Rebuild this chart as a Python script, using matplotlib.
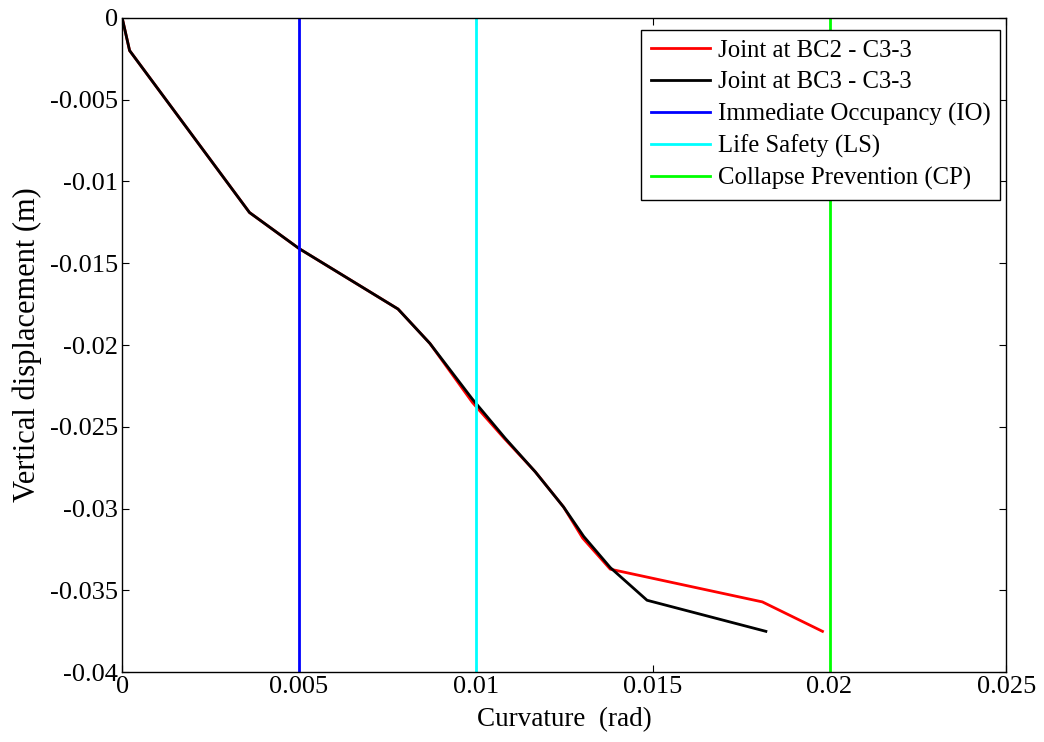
import numpy as np
import matplotlib
matplotlib.use("Agg")
import matplotlib.pyplot as plt
from matplotlib.ticker import FormatStrFormatter

plt.rcParams['font.family'] = ['Liberation Serif', 'DejaVu Serif']
plt.rcParams['axes.unicode_minus'] = False

# curvature (rad) vs vertical displacement (m)
curv_bc2 = [0.0, 0.00021, 0.0036, 0.0050, 0.0078, 0.0087, 0.0099, 0.0108, 0.01168, 0.01248, 0.01302, 0.0138, 0.0181, 0.0198]
disp_bc2 = [0.0, -0.0020, -0.0119, -0.0141, -0.0178, -0.0199, -0.0235, -0.0257, -0.02775, -0.0299, -0.0318, -0.0337, -0.0357, -0.0375]

curv_bc3 = [0.0, 0.00021, 0.0036, 0.0050, 0.0078, 0.0087, 0.0099, 0.01083, 0.01168, 0.01248, 0.01305, 0.0138, 0.01484, 0.0182]
disp_bc3 = [0.0, -0.0020, -0.0119, -0.0141, -0.0178, -0.0199, -0.0233, -0.0257, -0.02775, -0.0299, -0.0317, -0.0336, -0.0356, -0.0375]

limits = [0.005, 0.01, 0.02]
limit_names = ['Immediate Occupancy (IO)', 'Life Safety (LS)', 'Collapse Prevention (CP)']
limit_colors = ['#0000ff', '#00ffff', '#00ff00']

xticks = [0, 0.005, 0.01, 0.015, 0.02, 0.025]
yticks = [-0.04, -0.035, -0.03, -0.025, -0.02, -0.015, -0.01, -0.005, 0]

fig = plt.figure(figsize=(10.44, 7.42), dpi=100)
ax = fig.add_axes([0.117, 0.094, 0.847, 0.882])

ax.plot(curv_bc2, disp_bc2, color='red', lw=2, label='Joint at BC2 - C3-3')
ax.plot(curv_bc3, disp_bc3, color='black', lw=2, label='Joint at BC3 - C3-3')
for x, name, c in zip(limits, limit_names, limit_colors):
    ax.axvline(x, color=c, lw=2, label=name)

ax.set_xlim(0, 0.025)
ax.set_ylim(-0.04, 0)
ax.set_xticks(xticks)
ax.set_yticks(yticks)
ax.xaxis.set_major_formatter(FormatStrFormatter('%g'))
ax.yaxis.set_major_formatter(FormatStrFormatter('%g'))
ax.tick_params(direction='in', top=True, right=True, labelsize=19, length=5, pad=3)
for s in ax.spines.values():
    s.set_linewidth(1)

ax.set_xlabel('Curvature  (rad)', fontsize=19.5, labelpad=6)
ax.set_ylabel('Vertical displacement (m)', fontsize=22, labelpad=6)

leg = ax.legend(loc='upper right', bbox_to_anchor=(0.9932, 0.9817), borderaxespad=0,
                fontsize=17.8, frameon=True, fancybox=False,
                edgecolor='black', framealpha=1, handlelength=2.4, handletextpad=0.3,
                labelspacing=0.37, borderpad=0.4)
leg.get_frame().set_linewidth(1)

fig.savefig('out.png', dpi=100)
